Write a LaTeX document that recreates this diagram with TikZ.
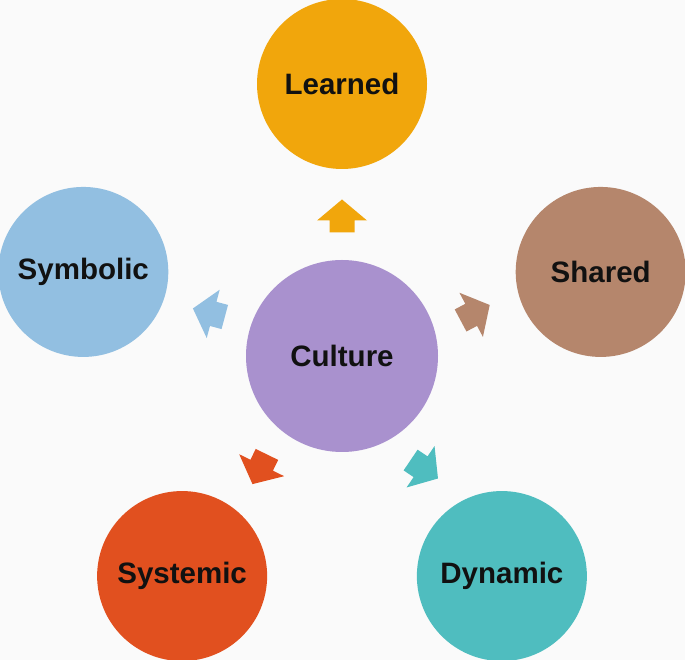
\documentclass[tikz,border=0pt]{standalone}
\usepackage{fontspec}
\setmainfont{Liberation Sans}
\usetikzlibrary{calc}
\definecolor{bgcol}{HTML}{FAFAFA}
\definecolor{learnedcol}{HTML}{F1A60C}
\definecolor{sharedcol}{HTML}{B5866C}
\definecolor{symboliccol}{HTML}{92BFE1}
\definecolor{culturecol}{HTML}{A991CE}
\definecolor{systemiccol}{HTML}{E1501F}
\definecolor{dynamiccol}{HTML}{4FBDBF}
\definecolor{labelcol}{HTML}{111111}

\begin{document}
\begin{tikzpicture}[x=1pt,y=1pt,
  bubble/.style={circle,inner sep=0pt,minimum size=170pt,text=labelcol,
    font=\fontsize{29.5}{31}\selectfont\bfseries}]
\def\ring{272}
\fill[bgcol] (0,0) rectangle (685,660);
\useasboundingbox (0,0) rectangle (685,660);

\node[bubble,fill=culturecol,minimum size=192pt] (culture) at (342,304) {Culture};
\node[bubble,fill=learnedcol] (learned) at ($(culture)+(90:\ring)$) {Learned};
\node[bubble,fill=sharedcol] (shared) at ($(culture)+(18:\ring)$) {Shared};
\node[bubble,fill=symboliccol] (symbolic) at ($(culture)+(162:\ring)$) {Symbolic};
\node[bubble,fill=systemiccol] (systemic) at ($(culture)+(234:\ring)$) {Systemic};
\node[bubble,fill=dynamiccol] (dynamic) at ($(culture)+(306:\ring)$) {Dynamic};

% block arrows between the middle and the outer circles
\foreach \ang/\tilt/\col in {90/90/learnedcol,18/28/sharedcol,162/165/symboliccol,
    234/244/systemiccol,306/326/dynamiccol}
  \fill[\col,shift={($(culture)+(\ang:140)$)},rotate=\tilt]
    (-16.5,-12.5) -- (-4.5,-12.5) -- (-4.5,-25) -- (16.5,0)
    -- (-4.5,25) -- (-4.5,12.5) -- (-16.5,12.5) -- cycle;

\end{tikzpicture}
\end{document}
